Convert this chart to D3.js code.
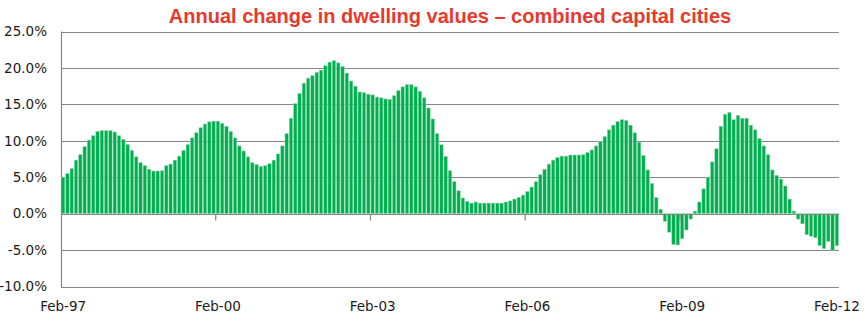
<!DOCTYPE html>
<html>
<head>
<meta charset="utf-8">
<script src="https://cdn.jsdelivr.net/npm/d3@7"></script>
<style>
  html, body { margin: 0; padding: 0; background: #fff; }
  svg { display: block; }
</style>
</head>
<body>
<svg id="chart" width="864" height="326"></svg>
<script>
// ---- Data (annual % change, monthly, Feb-97 .. Feb-12) ----
const title = "Annual change in dwelling values \u2013 combined capital cities";

const change1997to1999 = [5.0, 5.5, 6.2, 7.35, 8.1, 9.2, 10.1, 10.7, 11.3, 11.4, 11.4, 11.4,
  11.2, 10.7, 10.2, 9.5, 8.7, 7.8, 7.0, 6.6, 6.1, 5.85, 5.85, 5.9,
  6.6, 6.8, 7.35, 7.9, 8.7, 9.5, 10.4, 11.1, 11.8, 12.3, 12.6, 12.7];
const change2000to2002 = [12.7, 12.4, 12.0, 11.3, 10.4, 9.3, 8.6, 7.8, 7.0, 6.75, 6.5, 6.6,
  6.85, 7.35, 8.2, 9.3, 11.0, 13.1, 15.1, 16.5, 17.9, 18.6, 18.95, 19.4,
  19.7, 20.3, 20.8, 21.0, 20.7, 20.2, 19.3, 18.2, 17.5, 16.7, 16.6, 16.4];
const change2003to2005 = [16.3, 16.0, 15.9, 15.75, 15.7, 16.2, 16.9, 17.4, 17.7, 17.7, 17.4, 16.8,
  15.9, 14.5, 13.0, 11.0, 9.45, 7.85, 5.9, 4.4, 3.15, 2.15, 1.7, 1.45,
  1.6, 1.45, 1.45, 1.45, 1.45, 1.45, 1.45, 1.6, 1.75, 2.0, 2.25, 2.55];
const change2006to2008 = [3.05, 3.65, 4.4, 5.35, 6.1, 6.8, 7.35, 7.7, 7.9, 7.9, 8.05, 8.05,
  8.05, 8.1, 8.4, 8.75, 9.3, 9.9, 10.6, 11.5, 12.15, 12.65, 12.9, 12.8,
  12.15, 11.1, 9.8, 8.0, 6.0, 4.15, 2.2, 0.6, -1.05, -2.55, -4.25, -4.3];
const change2009to2012 = [-3.45, -2.25, -0.75, 0.35, 1.6, 3.4, 5.0, 7.1, 8.9, 12.0, 13.65, 13.9,
  12.9, 13.5, 13.1, 13.1, 12.15, 11.5, 10.3, 9.3, 8.1, 6.0, 5.25, 4.75,
  3.8, 2.0, 0.35, -0.75, -1.4, -2.9, -3.1, -3.3, -4.4, -4.8, -3.8, -5.05,
  -4.4];

const values = [].concat(change1997to1999, change2000to2002, change2003to2005,
                         change2006to2008, change2009to2012);

// Month categories Feb-97 .. Feb-12
const fmt = d3.utcFormat("%b-%y");
const categories = d3.utcMonth.range(new Date(Date.UTC(1997, 1, 1)), new Date(Date.UTC(2012, 2, 1))).map(fmt);

const xTickLabels = ["Feb-97", "Feb-00", "Feb-03", "Feb-06", "Feb-09", "Feb-12"];
const yTicks = [-10, -5, 0, 5, 10, 15, 20, 25];

const data = categories.map((c, i) => ({ cat: c, value: values[i] }));

// ---- Layout ----
const svg = d3.select("#chart");
const plotLeft = 61, plotRight = 839, plotTop = 31.5, plotBottom = 286.5;

const x = d3.scaleBand().domain(categories).range([plotLeft, plotRight]).paddingInner(0.2).paddingOuter(0.1);
const y = d3.scaleLinear().domain([-10, 25]).range([plotBottom, plotTop]);

const gridColor = "#868686";
const fontFamily = "'DejaVu Sans', sans-serif";

// Title
svg.append("text")
  .attr("x", 450).attr("y", 23)
  .attr("text-anchor", "middle")
  .attr("font-family", "'Liberation Sans', Arial, sans-serif")
  .attr("font-weight", "bold")
  .attr("font-size", 20)
  .attr("fill", "#E8392D")
  .text(title);

// Gridlines
svg.append("g").selectAll("line")
  .data(yTicks.filter(d => d !== 0))
  .join("line")
  .attr("x1", plotLeft).attr("x2", plotRight)
  .attr("y1", d => Math.round(y(d)) + 0.5).attr("y2", d => Math.round(y(d)) + 0.5)
  .attr("stroke", gridColor).attr("stroke-width", 1.2);

// Y axis labels (hyphen-minus, as in the reference)
const yAxis = d3.axisLeft(y).tickValues(yTicks).tickSize(0).tickPadding(14)
  .tickFormat(d => d.toFixed(1) + "%");
svg.append("g")
  .attr("transform", `translate(${plotLeft},0)`)
  .call(yAxis)
  .call(g => g.select(".domain").remove())
  .call(g => g.selectAll("text")
    .attr("font-family", fontFamily)
    .attr("font-size", 13.5)
    .attr("fill", "#1a1a1a"));

// Bars
svg.append("g").selectAll("rect")
  .data(data)
  .join("rect")
  .attr("x", d => x(d.cat))
  .attr("width", x.bandwidth())
  .attr("y", d => y(Math.max(0, d.value)))
  .attr("height", d => Math.abs(y(d.value) - y(0)))
  .attr("fill", "#00B050")
  .attr("stroke", "#9ddcb4")
  .attr("stroke-width", 0.5);

// Vertical axis line
svg.append("line")
  .attr("x1", plotLeft + 0.5).attr("x2", plotLeft + 0.5)
  .attr("y1", plotTop).attr("y2", plotBottom + 0.5)
  .attr("stroke", gridColor).attr("stroke-width", 1.2);

// X axis at zero with tick marks
const step = x.step();
const tickIdx = [36, 72, 108, 144];
const zeroY = Math.round(y(0)) + 0.5;
svg.append("line")
  .attr("x1", plotLeft).attr("x2", plotRight)
  .attr("y1", zeroY).attr("y2", zeroY)
  .attr("stroke", gridColor).attr("stroke-width", 1.2);
svg.append("g").selectAll("line")
  .data(tickIdx)
  .join("line")
  .attr("x1", i => x(categories[i]) - step * x.paddingInner() / 2)
  .attr("x2", i => x(categories[i]) - step * x.paddingInner() / 2)
  .attr("y1", zeroY).attr("y2", zeroY + 6)
  .attr("stroke", gridColor).attr("stroke-width", 1.2);

// X labels
const xAxis = d3.axisBottom(x).tickValues(xTickLabels).tickSize(0).tickPadding(0);
svg.append("g")
  .attr("transform", `translate(0,${plotBottom + 15})`)
  .call(xAxis)
  .call(g => g.select(".domain").remove())
  .call(g => g.selectAll("text")
    .attr("font-family", fontFamily)
    .attr("font-size", 13.5)
    .attr("fill", "#1a1a1a"));
</script>
</body>
</html>
